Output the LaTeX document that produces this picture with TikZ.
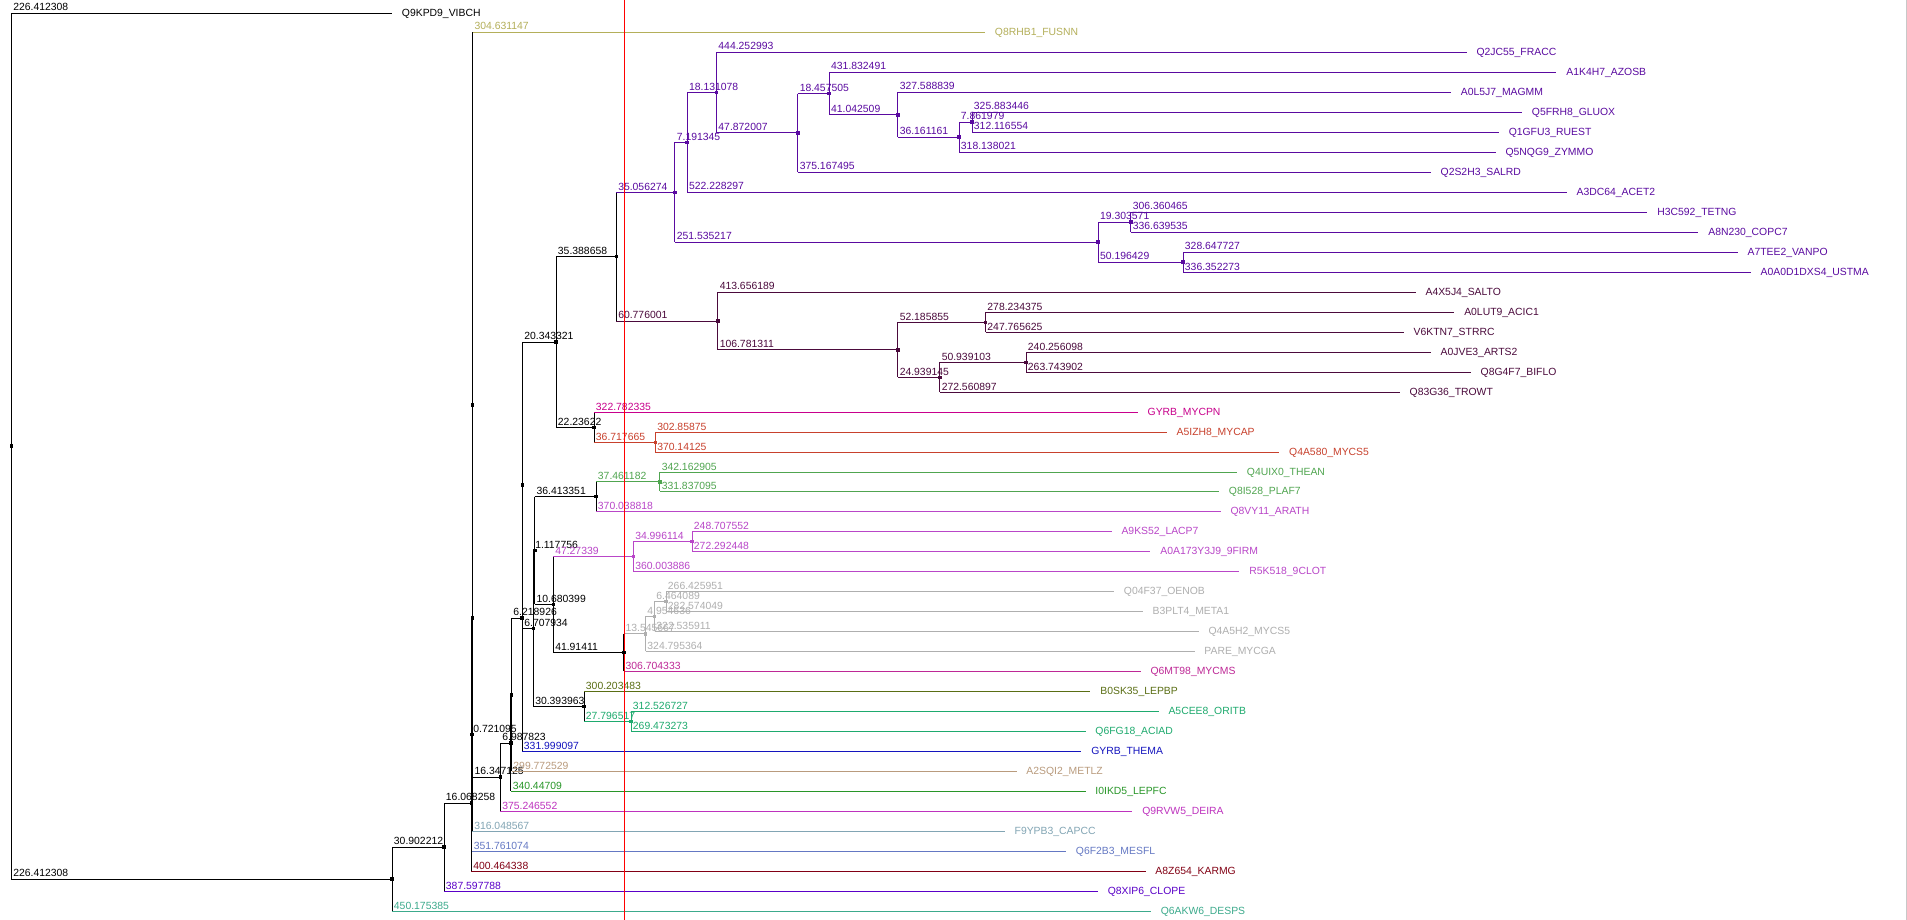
\documentclass[tikz,border=0pt]{standalone}
\usepackage{fontspec}
\setmainfont{Liberation Sans}
\definecolor{cKhaki}{RGB}{180,175,90}
\definecolor{cPurple}{RGB}{90,10,160}
\definecolor{cPlum}{RGB}{75,10,60}
\definecolor{cMag}{RGB}{200,0,140}
\definecolor{cRed}{RGB}{200,65,45}
\definecolor{cGreen}{RGB}{80,165,80}
\definecolor{cOrchid}{RGB}{185,70,200}
\definecolor{cGray}{RGB}{175,175,175}
\definecolor{cPink}{RGB}{190,40,150}
\definecolor{cOlive}{RGB}{90,110,20}
\definecolor{cTealG}{RGB}{30,170,110}
\definecolor{cBlue}{RGB}{20,20,190}
\definecolor{cTan}{RGB}{185,155,125}
\definecolor{cGreenB}{RGB}{40,150,40}
\definecolor{cViolet}{RGB}{190,50,190}
\definecolor{cGrayBlue}{RGB}{130,165,180}
\definecolor{cSlate}{RGB}{100,120,195}
\definecolor{cDarkRed}{RGB}{130,0,20}
\definecolor{cVioletB}{RGB}{90,0,200}
\definecolor{cTeal}{RGB}{60,170,140}
\definecolor{cRule}{RGB}{255,0,0}
\definecolor{cEdge}{RGB}{200,200,200}
% parent, child, colour, label
\newcommand\tbranch[4]{%
  \draw[#3] (#1 |- #2) -- (#2);
  \path (#1 |- #2) node[lab,text=#3,anchor=base west,xshift=1.5pt,yshift=2.3pt] (#2-bl) {#4};}
% parent, child, colour (no label)
\newcommand\tbare[3]{\draw[#3] (#1 |- #2) -- (#2);}
% parent, child1, child2, colour
\newcommand\tvert[4]{\draw[#4] (#1 |- #2) -- (#1 |- #3);}
% node, colour
\newcommand\tmark[2]{\fill[#2] ([xshift=-1.8pt,yshift=-1.8pt]#1) rectangle ([xshift=1.8pt,yshift=1.8pt]#1);}
% name, x end, y, colour, text
\newcommand\tleaf[5]{%
  \coordinate (#1) at (#2,#3);
  \node[lab,text=#4,anchor=base west] (#1-t) at (#2+9.5,#3+3.2) {#5};}
\begin{document}
\begin{tikzpicture}[x=1pt,y=-1pt,line width=0.9pt,
  lab/.style={inner sep=0pt,font=\fontsize{10.4}{12}\selectfont}]
\fill[white] (0,0) rectangle (1907,920);
\useasboundingbox (0,0) rectangle (1907,920);
% internal nodes
\coordinate (root) at (11.4,446.25);
\coordinate (nA) at (392,879.2);
\coordinate (nB) at (444,847.15);
\coordinate (nC) at (471.4,803);
\coordinate (nD) at (471.9,734.65);
\coordinate (nX) at (472.3,618);
\coordinate (nY) at (472.6,404.75);
\coordinate (nZ) at (500.4,777.2);
\coordinate (nW) at (510.8,743.05);
\coordinate (nV) at (511.5,694.8);
\coordinate (nU) at (522,618.25);
\coordinate (nT) at (522.4,485.2);
\coordinate (nS1) at (556,342);
\coordinate (nS2) at (533.3,628.4);
\coordinate (nP) at (616.3,256.7);
\coordinate (nQ) at (594,427.3);
\coordinate (nPu) at (674.9,192.4);
\coordinate (nPl) at (717.8,321.05);
\coordinate (n7191) at (687.1,142.45);
\coordinate (n251) at (1098.2,242.3);
\coordinate (n18131) at (716.5,92.6);
\coordinate (n47872) at (797.8,132.9);
\coordinate (n18457) at (829.2,93.55);
\coordinate (n41042) at (897.8,114.8);
\coordinate (n36161) at (959,137.3);
\coordinate (n7861) at (972,122.3);
\coordinate (n19303) at (1130.8,222.3);
\coordinate (n50196) at (1183,262.3);
\coordinate (n106) at (897.8,349.8);
\coordinate (n52) at (985.5,322.3);
\coordinate (n24) at (939.8,377.3);
\coordinate (n50939) at (1026,362.3);
\coordinate (nRed) at (655.3,442.3);
\coordinate (nR) at (534.7,550.5);
\coordinate (n30393) at (584,706.3);
\coordinate (n36413) at (596,496.55);
\coordinate (n10680) at (553.3,604.4);
\coordinate (nGr) at (659.8,481.8);
\coordinate (nOr) at (633.3,556.3);
\coordinate (n34996) at (692,541.3);
\coordinate (n41914) at (623.7,652.55);
\coordinate (nGa) at (645.5,633.8);
\coordinate (nGb) at (654.5,616.3);
\coordinate (nGc) at (666,601.3);
\coordinate (nTe) at (631,721.3);
% leaves
\tleaf{Q9KPD9}{392}{13.3}{black}{Q9KPD9\_VIBCH}
\tleaf{Q8RHB1}{985}{32.3}{cKhaki}{Q8RHB1\_FUSNN}
\tleaf{Q2JC55}{1466.6}{52.3}{cPurple}{Q2JC55\_FRACC}
\tleaf{A1K4H7}{1556.4}{72.3}{cPurple}{A1K4H7\_AZOSB}
\tleaf{A0L5J7}{1451}{92.3}{cPurple}{A0L5J7\_MAGMM}
\tleaf{Q5FRH8}{1522}{112.3}{cPurple}{Q5FRH8\_GLUOX}
\tleaf{Q1GFU3}{1498.8}{132.3}{cPurple}{Q1GFU3\_RUEST}
\tleaf{Q5NQG9}{1495.6}{152.3}{cPurple}{Q5NQG9\_ZYMMO}
\tleaf{Q2S2H3}{1430.7}{172.3}{cPurple}{Q2S2H3\_SALRD}
\tleaf{A3DC64}{1566.6}{192.3}{cPurple}{A3DC64\_ACET2}
\tleaf{H3C592}{1647.4}{212.3}{cPurple}{H3C592\_TETNG}
\tleaf{A8N230}{1698.4}{232.3}{cPurple}{A8N230\_COPC7}
\tleaf{A7TEE2}{1737.6}{252.3}{cPurple}{A7TEE2\_VANPO}
\tleaf{USTMA}{1750.7}{272.3}{cPurple}{A0A0D1DXS4\_USTMA}
\tleaf{A4X5J4}{1415.6}{292.3}{cPlum}{A4X5J4\_SALTO}
\tleaf{A0LUT9}{1454.3}{312.3}{cPlum}{A0LUT9\_ACIC1}
\tleaf{V6KTN7}{1403.7}{332.3}{cPlum}{V6KTN7\_STRRC}
\tleaf{A0JVE3}{1430.7}{352.3}{cPlum}{A0JVE3\_ARTS2}
\tleaf{Q8G4F7}{1470.7}{372.3}{cPlum}{Q8G4F7\_BIFLO}
\tleaf{Q83G36}{1399.7}{392.3}{cPlum}{Q83G36\_TROWT}
\tleaf{MYCPN}{1137.7}{412.3}{cMag}{GYRB\_MYCPN}
\tleaf{A5IZH8}{1166.7}{432.3}{cRed}{A5IZH8\_MYCAP}
\tleaf{Q4A580}{1279.2}{452.3}{cRed}{Q4A580\_MYCS5}
\tleaf{Q4UIX0}{1237}{472.3}{cGreen}{Q4UIX0\_THEAN}
\tleaf{Q8I528}{1219}{491.3}{cGreen}{Q8I528\_PLAF7}
\tleaf{Q8VY11}{1220.6}{511.3}{cOrchid}{Q8VY11\_ARATH}
\tleaf{A9KS52}{1111.6}{531.3}{cOrchid}{A9KS52\_LACP7}
\tleaf{A0A173}{1150.4}{551.3}{cOrchid}{A0A173Y3J9\_9FIRM}
\tleaf{R5K518}{1239.4}{571.3}{cOrchid}{R5K518\_9CLOT}
\tleaf{Q04F37}{1114}{591.3}{cGray}{Q04F37\_OENOB}
\tleaf{B3PLT4}{1142.7}{611.3}{cGray}{B3PLT4\_META1}
\tleaf{Q4A5H2}{1198.6}{631.3}{cGray}{Q4A5H2\_MYCS5}
\tleaf{PARE}{1194.5}{651.3}{cGray}{PARE\_MYCGA}
\tleaf{Q6MT98}{1140.6}{671.3}{cPink}{Q6MT98\_MYCMS}
\tleaf{B0SK35}{1090.4}{691.3}{cOlive}{B0SK35\_LEPBP}
\tleaf{A5CEE8}{1158.6}{711.3}{cTealG}{A5CEE8\_ORITB}
\tleaf{Q6FG18}{1085.5}{731.3}{cTealG}{Q6FG18\_ACIAD}
\tleaf{THEMA}{1081.4}{751.3}{cBlue}{GYRB\_THEMA}
\tleaf{A2SQI2}{1016.5}{771.3}{cTan}{A2SQI2\_METLZ}
\tleaf{I0IKD5}{1085.5}{791.3}{cGreenB}{I0IKD5\_LEPFC}
\tleaf{Q9RVW5}{1132.4}{811.3}{cViolet}{Q9RVW5\_DEIRA}
\tleaf{F9YPB3}{1004.7}{831.3}{cGrayBlue}{F9YPB3\_CAPCC}
\tleaf{Q6F2B3}{1066}{851.3}{cSlate}{Q6F2B3\_MESFL}
\tleaf{A8Z654}{1145.5}{871.3}{cDarkRed}{A8Z654\_KARMG}
\tleaf{Q8XIP6}{1097.8}{891.3}{cVioletB}{Q8XIP6\_CLOPE}
\tleaf{Q6AKW6}{1150.8}{911.3}{cTeal}{Q6AKW6\_DESPS}
% verticals
\tvert{root}{Q9KPD9}{nA}{black}
\tvert{nA}{nB}{Q6AKW6}{black}
\tvert{nB}{nC}{Q8XIP6}{black}
\tvert{nC}{nD}{A8Z654}{black}
\tvert{nD}{nX}{Q6F2B3}{black}
\tvert{nX}{nY}{F9YPB3}{black}
\tvert{nY}{Q8RHB1}{nZ}{black}
\tvert{nZ}{nW}{Q9RVW5}{black}
\tvert{nW}{nV}{I0IKD5}{black}
\tvert{nV}{nU}{A2SQI2}{black}
\tvert{nU}{nT}{THEMA}{black}
\tvert{nT}{nS1}{nS2}{black}
\tvert{nS1}{nP}{nQ}{black}
\tvert{nP}{nPu}{nPl}{black}
\tvert{nPu}{n7191}{n251}{cPurple}
\tvert{n7191}{n18131}{A3DC64}{cPurple}
\tvert{n18131}{Q2JC55}{n47872}{cPurple}
\tvert{n47872}{n18457}{Q2S2H3}{cPurple}
\tvert{n18457}{A1K4H7}{n41042}{cPurple}
\tvert{n41042}{A0L5J7}{n36161}{cPurple}
\tvert{n36161}{n7861}{Q5NQG9}{cPurple}
\tvert{n7861}{Q5FRH8}{Q1GFU3}{cPurple}
\tvert{n251}{n19303}{n50196}{cPurple}
\tvert{n19303}{H3C592}{A8N230}{cPurple}
\tvert{n50196}{A7TEE2}{USTMA}{cPurple}
\tvert{nPl}{A4X5J4}{n106}{cPlum}
\tvert{n106}{n52}{n24}{cPlum}
\tvert{n52}{A0LUT9}{V6KTN7}{cPlum}
\tvert{n24}{n50939}{Q83G36}{cPlum}
\tvert{n50939}{A0JVE3}{Q8G4F7}{cPlum}
\tvert{nQ}{MYCPN}{nRed}{black}
\tvert{nRed}{A5IZH8}{Q4A580}{cRed}
\tvert{nS2}{nR}{n30393}{black}
\tvert{nR}{n36413}{n10680}{black}
\tvert{n36413}{nGr}{Q8VY11}{black}
\tvert{nGr}{Q4UIX0}{Q8I528}{cGreen}
\tvert{n10680}{nOr}{n41914}{black}
\tvert{nOr}{n34996}{R5K518}{cOrchid}
\tvert{n34996}{A9KS52}{A0A173}{cOrchid}
\tvert{n41914}{nGa}{Q6MT98}{black}
\tvert{nGa}{nGb}{PARE}{cGray}
\tvert{nGb}{nGc}{Q4A5H2}{cGray}
\tvert{nGc}{Q04F37}{B3PLT4}{cGray}
\tvert{n30393}{B0SK35}{nTe}{black}
\tvert{nTe}{A5CEE8}{Q6FG18}{cTealG}
% horizontals with labels
\tbranch{root}{Q9KPD9}{black}{226.412308}
\tbranch{root}{nA}{black}{226.412308}
\tbranch{nA}{nB}{black}{30.902212}
\tbranch{nA}{Q6AKW6}{cTeal}{450.175385}
\tbranch{nB}{nC}{black}{16.068258}
\tbranch{nB}{Q8XIP6}{cVioletB}{387.597788}
\tbranch{nC}{nD}{black}{0.721095}
\tbranch{nC}{A8Z654}{cDarkRed}{400.464338}
\tbare{nD}{nX}{black}
\tbranch{nD}{Q6F2B3}{cSlate}{351.761074}
\tbare{nX}{nY}{black}
\tbranch{nX}{F9YPB3}{cGrayBlue}{316.048567}
\tbranch{nY}{Q8RHB1}{cKhaki}{304.631147}
\tbranch{nY}{nZ}{black}{16.347125}
\tbranch{nZ}{nW}{black}{6.987823}
\tbranch{nZ}{Q9RVW5}{cViolet}{375.246552}
\tbare{nW}{nV}{black}
\tbranch{nW}{I0IKD5}{cGreenB}{340.44709}
\tbranch{nV}{nU}{black}{6.218926}
\tbranch{nV}{A2SQI2}{cTan}{299.772529}
\tbare{nU}{nT}{black}
\tbranch{nU}{THEMA}{cBlue}{331.999097}
\tbranch{nT}{nS1}{black}{20.343321}
\tbranch{nT}{nS2}{black}{6.707934}
\tbranch{nS1}{nP}{black}{35.388658}
\tbranch{nS1}{nQ}{black}{22.23622}
\tbranch{nP}{nPu}{cPurple}{35.056274}
\tbranch{nP}{nPl}{cPlum}{60.776001}
\tbranch{nPu}{n7191}{cPurple}{7.191345}
\tbranch{nPu}{n251}{cPurple}{251.535217}
\tbranch{n7191}{n18131}{cPurple}{18.131078}
\tbranch{n7191}{A3DC64}{cPurple}{522.228297}
\tbranch{n18131}{Q2JC55}{cPurple}{444.252993}
\tbranch{n18131}{n47872}{cPurple}{47.872007}
\tbranch{n47872}{n18457}{cPurple}{18.457505}
\tbranch{n47872}{Q2S2H3}{cPurple}{375.167495}
\tbranch{n18457}{A1K4H7}{cPurple}{431.832491}
\tbranch{n18457}{n41042}{cPurple}{41.042509}
\tbranch{n41042}{A0L5J7}{cPurple}{327.588839}
\tbranch{n41042}{n36161}{cPurple}{36.161161}
\tbranch{n36161}{n7861}{cPurple}{7.861979}
\tbranch{n36161}{Q5NQG9}{cPurple}{318.138021}
\tbranch{n7861}{Q5FRH8}{cPurple}{325.883446}
\tbranch{n7861}{Q1GFU3}{cPurple}{312.116554}
\tbranch{n251}{n19303}{cPurple}{19.303571}
\tbranch{n251}{n50196}{cPurple}{50.196429}
\tbranch{n19303}{H3C592}{cPurple}{306.360465}
\tbranch{n19303}{A8N230}{cPurple}{336.639535}
\tbranch{n50196}{A7TEE2}{cPurple}{328.647727}
\tbranch{n50196}{USTMA}{cPurple}{336.352273}
\tbranch{nPl}{A4X5J4}{cPlum}{413.656189}
\tbranch{nPl}{n106}{cPlum}{106.781311}
\tbranch{n106}{n52}{cPlum}{52.185855}
\tbranch{n106}{n24}{cPlum}{24.939145}
\tbranch{n52}{A0LUT9}{cPlum}{278.234375}
\tbranch{n52}{V6KTN7}{cPlum}{247.765625}
\tbranch{n24}{n50939}{cPlum}{50.939103}
\tbranch{n24}{Q83G36}{cPlum}{272.560897}
\tbranch{n50939}{A0JVE3}{cPlum}{240.256098}
\tbranch{n50939}{Q8G4F7}{cPlum}{263.743902}
\tbranch{nQ}{MYCPN}{cMag}{322.782335}
\tbranch{nQ}{nRed}{cRed}{36.717665}
\tbranch{nRed}{A5IZH8}{cRed}{302.85875}
\tbranch{nRed}{Q4A580}{cRed}{370.14125}
\tbranch{nS2}{nR}{black}{1.117756}
\tbranch{nS2}{n30393}{black}{30.393963}
\tbranch{nR}{n36413}{black}{36.413351}
\tbranch{nR}{n10680}{black}{10.680399}
\tbranch{n36413}{nGr}{cGreen}{37.461182}
\tbranch{n36413}{Q8VY11}{cOrchid}{370.038818}
\tbranch{nGr}{Q4UIX0}{cGreen}{342.162905}
\tbranch{nGr}{Q8I528}{cGreen}{331.837095}
\tbranch{n10680}{nOr}{cOrchid}{47.27339}
\tbranch{n10680}{n41914}{black}{41.91411}
\tbranch{nOr}{n34996}{cOrchid}{34.996114}
\tbranch{nOr}{R5K518}{cOrchid}{360.003886}
\tbranch{n34996}{A9KS52}{cOrchid}{248.707552}
\tbranch{n34996}{A0A173}{cOrchid}{272.292448}
\tbranch{n41914}{nGa}{cGray}{13.545667}
\tbranch{n41914}{Q6MT98}{cPink}{306.704333}
\tbranch{nGa}{nGb}{cGray}{4.954636}
\tbranch{nGa}{PARE}{cGray}{324.795364}
\tbranch{nGb}{nGc}{cGray}{6.464089}
\tbranch{nGb}{Q4A5H2}{cGray}{322.535911}
\tbranch{nGc}{Q04F37}{cGray}{266.425951}
\tbranch{nGc}{B3PLT4}{cGray}{282.574049}
\tbranch{n30393}{B0SK35}{cOlive}{300.203483}
\tbranch{n30393}{nTe}{cTealG}{27.796517}
\tbranch{nTe}{A5CEE8}{cTealG}{312.526727}
\tbranch{nTe}{Q6FG18}{cTealG}{269.473273}
% rule line and right edge
\coordinate (ruleTop) at (624.5,0);
\coordinate (ruleBot) at (624.5,920);
\draw[cRule,line width=0.8pt] (ruleTop) -- (ruleBot);
\coordinate (edgeTop) at (1906,0);
\coordinate (edgeBot) at (1906,920);
\draw[cEdge,line width=1pt] (edgeTop) -- (edgeBot);
% node markers
\foreach \n in {root,nA,nB,nC,nD,nX,nY,nZ,nW,nV,nU,nT,nS1,nS2,nP,nQ,nR,n30393,n36413,n10680,n41914}{\tmark{\n}{black}}
\foreach \n in {nPu,n7191,n251,n18131,n47872,n18457,n41042,n36161,n7861,n19303,n50196}{\tmark{\n}{cPurple}}
\foreach \n in {nPl,n106,n52,n24,n50939}{\tmark{\n}{cPlum}}
\foreach \n in {nGa,nGb,nGc}{\tmark{\n}{cGray}}
\tmark{nRed}{cRed}
\tmark{nGr}{cGreen}
\tmark{nOr}{cOrchid}
\tmark{n34996}{cOrchid}
\tmark{nTe}{cTealG}
\end{tikzpicture}
\end{document}
